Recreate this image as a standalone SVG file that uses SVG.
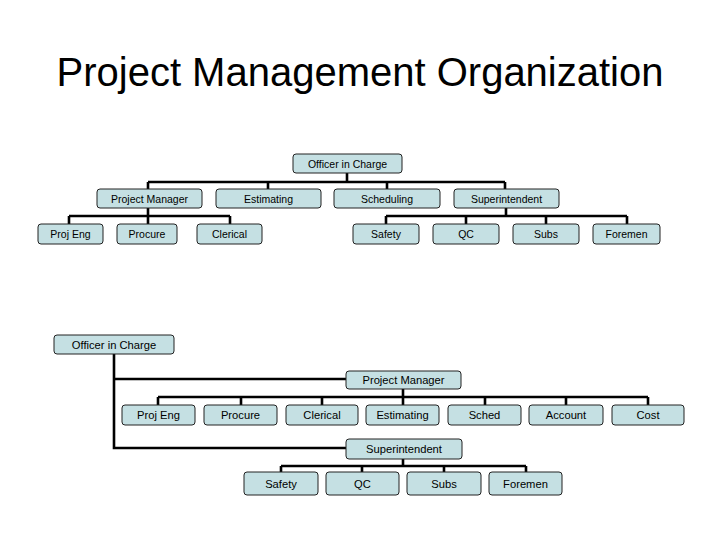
<svg xmlns="http://www.w3.org/2000/svg" width="720" height="540" viewBox="0 0 720 540">
<style>
.b{fill:#c5e0e3;stroke:#222;stroke-width:1}
.t{font-family:"Liberation Sans",Arial,sans-serif;font-size:10.5px;fill:#000;text-anchor:middle}
.t2{font-family:"Liberation Sans",Arial,sans-serif;font-size:11.2px;fill:#000;text-anchor:middle}
.c{fill:none;stroke:#000;stroke-width:2.6}
</style>
<rect width="720" height="540" fill="#fff"/>
<text x="360" y="86" font-family="Liberation Sans,Arial,sans-serif" font-size="40" text-anchor="middle">Project Management Organization</text>
<g id="connectors">
<path class="c" d="M347 173V182M148 182H505M148 182V189M268 182V189M387 182V189M505 182V189"/>
<path class="c" d="M148 208V216M69 216H230M69 216V224M148 216V224M230 216V224"/>
<path class="c" d="M506 208V216M386 216H627M386 216V224M466 216V224M546 216V224M627 216V224"/>
<path class="c" d="M114 354V448H346M114 379H346"/>
<path class="c" d="M403 389V405M158 397H648M158 397V405M241 397V405M322 397V405M485 397V405M566 397V405M648 397V405"/>
<path class="c" d="M403 459V466M281 466H526M281 466V472M362 466V472M444 466V472M526 466V472"/>
</g>
<g id="n1"><rect class="b" x="293" y="154" width="109" height="19" rx="3"/><text class="t" x="347.5" y="167.5">Officer in Charge</text></g>
<g id="n2"><rect class="b" x="97" y="189" width="105" height="19" rx="3"/><text class="t" x="149.5" y="202.5">Project Manager</text></g>
<g id="n3"><rect class="b" x="216" y="189" width="105" height="19" rx="3"/><text class="t" x="268.5" y="202.5">Estimating</text></g>
<g id="n4"><rect class="b" x="334" y="189" width="106" height="19" rx="3"/><text class="t" x="387" y="202.5">Scheduling</text></g>
<g id="n5"><rect class="b" x="454" y="189" width="105" height="19" rx="3"/><text class="t" x="506.5" y="202.5">Superintendent</text></g>
<g id="n6"><rect class="b" x="38" y="224" width="65" height="20" rx="3"/><text class="t" x="70.5" y="238">Proj Eng</text></g>
<g id="n7"><rect class="b" x="117" y="224" width="60" height="20" rx="3"/><text class="t" x="147" y="238">Procure</text></g>
<g id="n8"><rect class="b" x="197" y="224" width="65" height="20" rx="3"/><text class="t" x="229.5" y="238">Clerical</text></g>
<g id="n9"><rect class="b" x="353" y="224" width="66" height="20" rx="3"/><text class="t" x="386" y="238">Safety</text></g>
<g id="n10"><rect class="b" x="433" y="224" width="66" height="20" rx="3"/><text class="t" x="466" y="238">QC</text></g>
<g id="n11"><rect class="b" x="513" y="224" width="66" height="20" rx="3"/><text class="t" x="546" y="238">Subs</text></g>
<g id="n12"><rect class="b" x="593" y="224" width="67" height="20" rx="3"/><text class="t" x="626.5" y="238">Foremen</text></g>
<g id="m1"><rect class="b" x="54" y="335" width="120" height="19" rx="3"/><text class="t2" x="114" y="348.5">Officer in Charge</text></g>
<g id="m2"><rect class="b" x="346" y="371" width="115" height="18" rx="3"/><text class="t2" x="403.5" y="384">Project Manager</text></g>
<g id="m3"><rect class="b" x="122" y="405" width="73" height="20" rx="3"/><text class="t2" x="158.5" y="419">Proj Eng</text></g>
<g id="m4"><rect class="b" x="204" y="405" width="73" height="20" rx="3"/><text class="t2" x="240.5" y="419">Procure</text></g>
<g id="m5"><rect class="b" x="286" y="405" width="72" height="20" rx="3"/><text class="t2" x="322" y="419">Clerical</text></g>
<g id="m6"><rect class="b" x="366" y="405" width="73" height="20" rx="3"/><text class="t2" x="402.5" y="419">Estimating</text></g>
<g id="m7"><rect class="b" x="448" y="405" width="73" height="20" rx="3"/><text class="t2" x="484.5" y="419">Sched</text></g>
<g id="m8"><rect class="b" x="529" y="405" width="74" height="20" rx="3"/><text class="t2" x="566" y="419">Account</text></g>
<g id="m9"><rect class="b" x="612" y="405" width="72" height="20" rx="3"/><text class="t2" x="648" y="419">Cost</text></g>
<g id="m10"><rect class="b" x="346" y="439" width="116" height="20" rx="3"/><text class="t2" x="404" y="453">Superintendent</text></g>
<g id="m11"><rect class="b" x="244" y="472" width="74" height="23" rx="3"/><text class="t2" x="281" y="487.5">Safety</text></g>
<g id="m12"><rect class="b" x="326" y="472" width="73" height="23" rx="3"/><text class="t2" x="362.5" y="487.5">QC</text></g>
<g id="m13"><rect class="b" x="407" y="472" width="74" height="23" rx="3"/><text class="t2" x="444" y="487.5">Subs</text></g>
<g id="m14"><rect class="b" x="489" y="472" width="73" height="23" rx="3"/><text class="t2" x="525.5" y="487.5">Foremen</text></g>
</svg>
